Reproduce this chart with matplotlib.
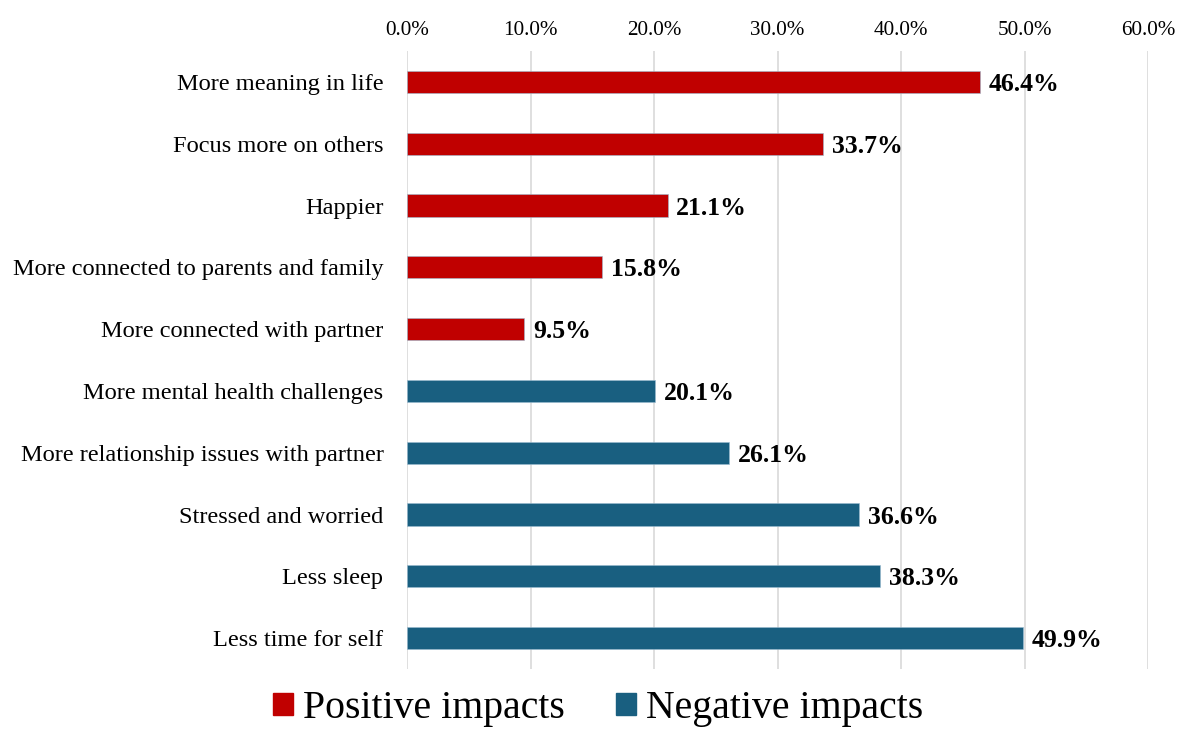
import matplotlib.pyplot as plt
from matplotlib.patches import Patch
from matplotlib.ticker import FuncFormatter

plt.rcParams['font.family'] = ['Liberation Serif', 'DejaVu Serif']

# survey items, top to bottom
positive_labels = ['More meaning in life', 'Focus more on others', 'Happier',
                   'More connected to parents and family', 'More connected with partner']
positive_values = [46.4, 33.7, 21.1, 15.8, 9.5]
negative_labels = ['More mental health challenges', 'More relationship issues with partner',
                   'Stressed and worried', 'Less sleep', 'Less time for self']
negative_values = [20.1, 26.1, 36.6, 38.3, 49.9]

red = '#C00000'
blue = '#195F80'

labels = positive_labels + negative_labels
values = positive_values + negative_values
colors = [red] * len(positive_values) + [blue] * len(negative_values)
ypos = list(range(len(labels)))

fig = plt.figure(figsize=(11.84, 7.29), dpi=100)
ax = fig.add_axes([0.3438, 0.0823, 0.6258, 0.8477])

ax.barh(ypos, values, height=0.36, color=colors, edgecolor='#9ABBD0', linewidth=0.4, zorder=3)
for y, v in zip(ypos, values):
    ax.text(v + 0.7, y, f'{v:.1f}%', va='center_baseline', ha='left',
            fontsize=18.5, fontweight='bold', color='black')

ax.set_ylim(len(labels) - 0.5, -0.5)
ax.set_xlim(0, 60)
ax.set_xticks(range(0, 61, 10))
ax.xaxis.set_major_formatter(FuncFormatter(lambda x, _: f'{x:.1f}%'))
ax.xaxis.tick_top()
ax.set_yticks(ypos)
ax.set_yticklabels(labels, fontsize=17.6)
ax.tick_params(axis='both', length=0, colors='black')
ax.tick_params(axis='x', pad=8, labelsize=15.2)
ax.tick_params(axis='y', pad=17)
ax.grid(axis='x', color='#D9D9D9', linewidth=1.2, zorder=0)
for s in ax.spines.values():
    s.set_visible(False)

handles = [Patch(color=red, label='Positive impacts'), Patch(color=blue, label='Negative impacts')]
fig.legend(handles=handles, loc='center', bbox_to_anchor=(0.505, 0.028), ncol=2,
           frameon=False, fontsize=28.6, handlelength=0.5, handleheight=0.5,
           handletextpad=0.25, columnspacing=1.3)

fig.savefig('out.png', dpi=100)
